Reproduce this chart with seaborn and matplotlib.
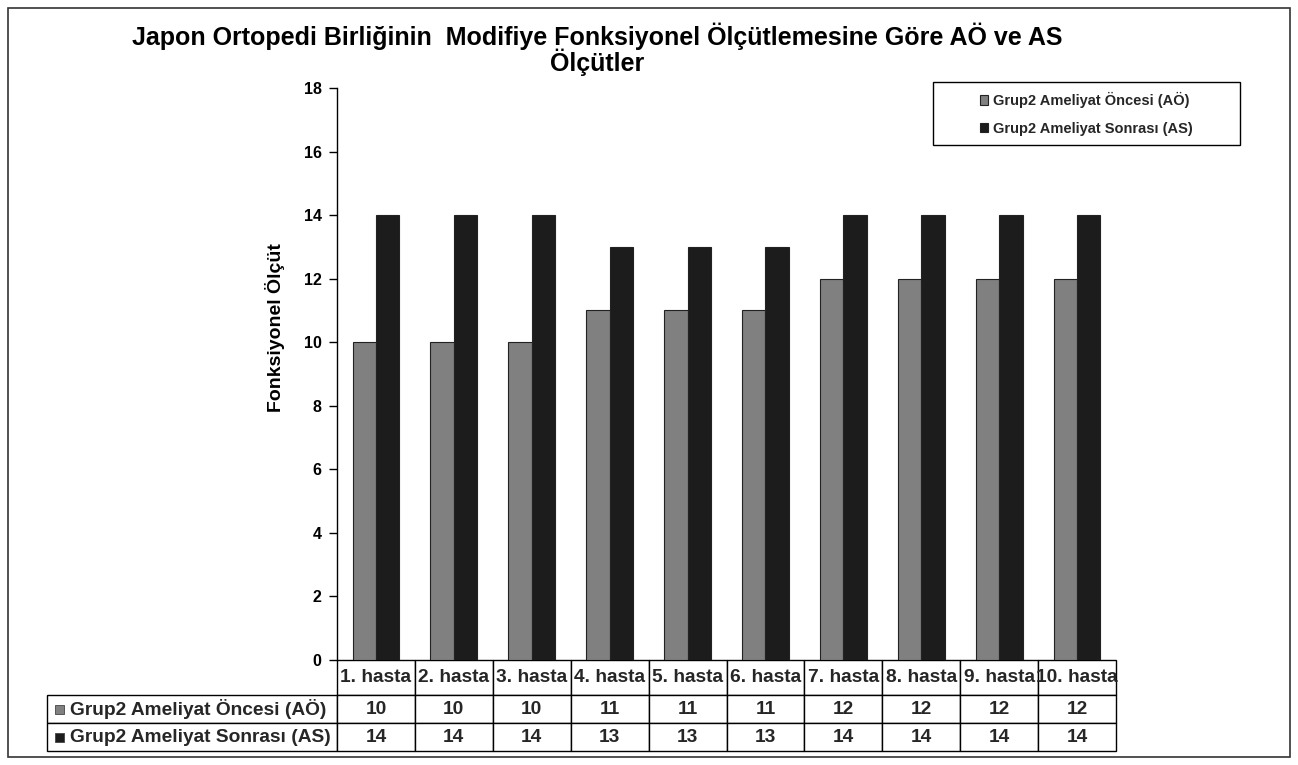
import numpy as np
import pandas as pd
import seaborn as sns
import matplotlib.pyplot as plt
from matplotlib.patches import Rectangle

# Patient categories and the two measured series
patients = [f"{i}. hasta" for i in range(1, 11)]
series_names = ["Grup2 Ameliyat Öncesi (AÖ)", "Grup2 Ameliyat Sonrası (AS)"]
pre_op = [10, 10, 10, 11, 11, 11, 12, 12, 12, 12]
post_op = [14, 14, 14, 13, 13, 13, 14, 14, 14, 14]
y_ticks = [0, 2, 4, 6, 8, 10, 12, 14, 16, 18]

title_lines = ["Japon Ortopedi Birliğinin  Modifiye Fonksiyonel Ölçütlemesine Göre AÖ ve AS",
               "Ölçütler"]
y_label = "Fonksiyonel Ölçüt"

colors = ["#808080", "#1c1c1c"]

sns.set_theme(style="white")
plt.rcParams["font.family"] = ["Liberation Sans", "DejaVu Sans"]
plt.rcParams["font.weight"] = "bold"

df = pd.DataFrame({
    "Hasta": patients * 2,
    "Seri": [series_names[0]] * len(patients) + [series_names[1]] * len(patients),
    "Değer": pre_op + post_op,
})

W, H = 1298, 765
fig = plt.figure(figsize=(W / 100, H / 100), dpi=100)
ax_l, ax_r, ax_t, ax_b = 337, 1116, 88, 660
ax = fig.add_axes([ax_l / W, 1 - ax_b / H, (ax_r - ax_l) / W, (ax_b - ax_t) / H])

sns.barplot(data=df, x="Hasta", y="Değer", hue="Seri", palette=colors,
            width=0.6, edgecolor="#222222", linewidth=0.8, ax=ax)

ax.set_ylim(0, 18)
ax.set_xlim(-0.5, len(patients) - 0.5)
ax.set_yticks(y_ticks)
ax.set_yticklabels([str(t) for t in y_ticks], fontsize=11.5, fontweight="bold", color="black")
ax.tick_params(axis="y", left=True, length=6, width=1, color="black", pad=5, direction="out")
ax.tick_params(axis="x", bottom=False, labelbottom=False)
ax.set_xlabel("")
ax.set_ylabel(y_label, fontsize=14, fontweight="bold", color="black")
ax.yaxis.set_label_coords((285 - ax_l) / (ax_r - ax_l), (ax_b - 328) / (ax_b - ax_t))
for side in ["top", "right", "bottom"]:
    ax.spines[side].set_visible(False)
ax.spines["left"].set_color("black")
ax.spines["left"].set_linewidth(1)

# Legend in a plain box at the upper right
handles, labels = ax.get_legend_handles_labels()
leg = ax.legend(handles, labels, loc="center",
                bbox_to_anchor=(1086 / W, 1 - 114 / H),
                bbox_transform=fig.transFigure,
                fontsize=10.5, frameon=False, borderpad=0,
                labelspacing=0.95, handlelength=0.6, handleheight=0.6,
                handletextpad=0.3)
for t in leg.get_texts():
    t.set_fontweight("bold")
fig.add_artist(Rectangle((933 / W, 1 - 145 / H), 307 / W, 63 / H,
                         transform=fig.transFigure, fill=False,
                         edgecolor="black", linewidth=1))

# Data table beneath the plot
tab_l, tab_b = 47, 751
label_w = ax_l - tab_l
col_w = (ax_r - ax_l) / len(patients)
cell_text = [[series_names[0]] + [str(v) for v in pre_op],
             [series_names[1]] + [str(v) for v in post_op]]
col_labels = [""] + patients
col_widths = [label_w] + [col_w] * len(patients)
ax_w, ax_h = ax_r - ax_l, ax_b - ax_t
tbl = ax.table(cellText=cell_text, colLabels=col_labels, colWidths=col_widths,
               cellLoc="center",
               bbox=[(tab_l - ax_l) / ax_w, -(tab_b - ax_b) / ax_h,
                     (ax_r - tab_l) / ax_w, (tab_b - ax_b) / ax_h])
tbl.auto_set_font_size(False)
tbl.set_fontsize(13.8)
for (r, c), cell in tbl.get_celld().items():
    cell.set_edgecolor("black")
    cell.set_linewidth(1)
    cell.set_height(35 if r == 0 else 28)
    cell.get_text().set_fontweight("bold")
    if r == 0 and c == 0:
        cell.visible_edges = "open"
    if c == 0 and r > 0:
        cell.get_text().set_horizontalalignment("left")
        cell._loc = "left"
        cell.PAD = 0.08

# Colour keys in front of the row labels
row_centers = [709, 737]
for yc, col in zip(row_centers, colors):
    fig.add_artist(Rectangle((55 / W, 1 - (yc + 4.5) / H), 9 / W, 9 / H,
                             transform=fig.transFigure, facecolor=col,
                             edgecolor="#444444", linewidth=0.6))

# Two-line title
for line, base in zip(title_lines, [45, 71]):
    fig.text(597 / W, 1 - base / H, line, ha="center", va="baseline",
             fontsize=18, fontweight="bold", color="black")

# Outer frame
fig.add_artist(Rectangle((8 / W, 8 / H), 1282 / W, 749 / H, transform=fig.transFigure,
                         fill=False, edgecolor="#333333", linewidth=1.2))

fig.savefig("out.png", dpi=100, facecolor="white")
